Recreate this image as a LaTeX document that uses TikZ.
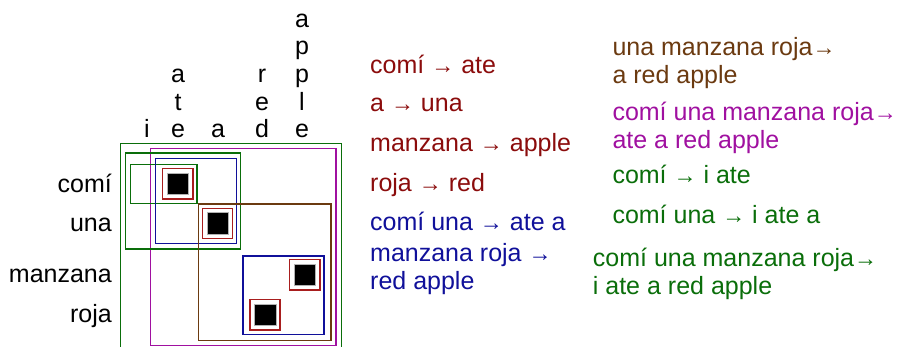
\documentclass[tikz,border=0pt]{standalone}
\usepackage{fontspec}
\setmainfont{Liberation Sans}
\definecolor{dred}{HTML}{8B0C0C}
\definecolor{bred}{HTML}{A81E1E}
\definecolor{dgreen}{HTML}{0A6E0A}
\definecolor{dblue}{HTML}{10109A}
\definecolor{dbrown}{HTML}{6B3A10}
\definecolor{dmag}{HTML}{A010A0}
\newcommand\arr{{\fontsize{23}{23}\selectfont →}}
\tikzset{
  txt/.style={inner sep=0pt, font=\fontsize{25}{28}\selectfont, align=left},
  lbl/.style={inner sep=0pt, font=\fontsize{25}{27.7}\selectfont, align=center},
  box/.style={draw=#1, line width=1.4pt},
  cell/.style={fill=black, draw=gray!60, line width=0.8pt},
}
\begin{document}
\begin{tikzpicture}[x=1pt,y=-1pt]
\useasboundingbox (0,0) rectangle (898,347);
% column words (base = last line)
\node[lbl, anchor=base] (ci) at (147,138) {i};
\node[lbl, anchor=base] (cate) at (178,138) {a\\t\\e};
\node[lbl, anchor=base] (ca) at (218,138) {a};
\node[lbl, anchor=base] (cred) at (262,138) {r\\e\\d};
\node[lbl, anchor=base] (capple) at (302,138) {a\\p\\p\\l\\e};
% row words
\node[txt, anchor=base east] (rcomi) at (112,193) {comí};
\node[txt, anchor=base east] (runa) at (112,232) {una};
\node[txt, anchor=base east] (rmanz) at (112,283) {manzana};
\node[txt, anchor=base east] (rroja) at (112,323) {roja};
% boxes
\draw[box=dgreen] (120.3,143.3) rectangle (341.3,360);
\draw[box=dmag] (150.7,148.7) rectangle (336,345.3);
\draw[box=dgreen] (125.7,153) rectangle (240.3,249);
\draw[box=dgreen] (130.3,164.7) rectangle (197,203.7);
\draw[box=dblue] (155.7,158.7) rectangle (236.7,243.7);
\draw[box=dbrown] (198.3,204) rectangle (331,340.7);
\draw[box=dblue] (243,256) rectangle (324,334.7);
\draw[box=bred] (162.7,168.3) rectangle (193,199);
\draw[cell] (167.3,173) rectangle (188.3,194);
\draw[box=bred] (202.7,208.3) rectangle (232.7,238.7);
\draw[cell] (207,212.7) rectangle (228.3,234);
\draw[box=bred] (289.7,259.7) rectangle (320,290);
\draw[cell] (294,264.3) rectangle (315.3,285.7);
\draw[box=bred] (250,299.3) rectangle (280,330);
\draw[cell] (254.7,304) rectangle (276,325.3);
% rules, middle column
\node[txt, anchor=base west, text=dred] (r1) at (370,73.3) {comí \arr{} ate};
\node[txt, anchor=base west, text=dred] (r2) at (370,111.7) {a \arr{} una};
\node[txt, anchor=base west, text=dred] (r3) at (370,151.7) {manzana \arr{} apple};
\node[txt, anchor=base west, text=dred] (r4) at (370,191.7) {roja \arr{} red};
\node[txt, anchor=base west, text=dblue] (r5) at (370,230.7) {comí una \arr{} ate a};
\node[txt, anchor=base west, text=dblue] (r6) at (370,290) {manzana roja \arr\\red apple};
% rules, right column
\node[txt, anchor=base west, text=dbrown] (r7) at (612.3,83.3) {una manzana roja\arr\\a red apple};
\node[txt, anchor=base west, text=dmag] (r8) at (612.3,148.3) {comí una manzana roja\arr\\ate a red apple};
\node[txt, anchor=base west, text=dgreen] (r9) at (612.3,183.3) {comí \arr{} i ate};
\node[txt, anchor=base west, text=dgreen] (r10) at (612.3,223.3) {comí una \arr{} i ate a};
\node[txt, anchor=base west, text=dgreen] (r11) at (592.7,295) {comí una manzana roja\arr\\i ate a red apple};
\end{tikzpicture}
\end{document}
